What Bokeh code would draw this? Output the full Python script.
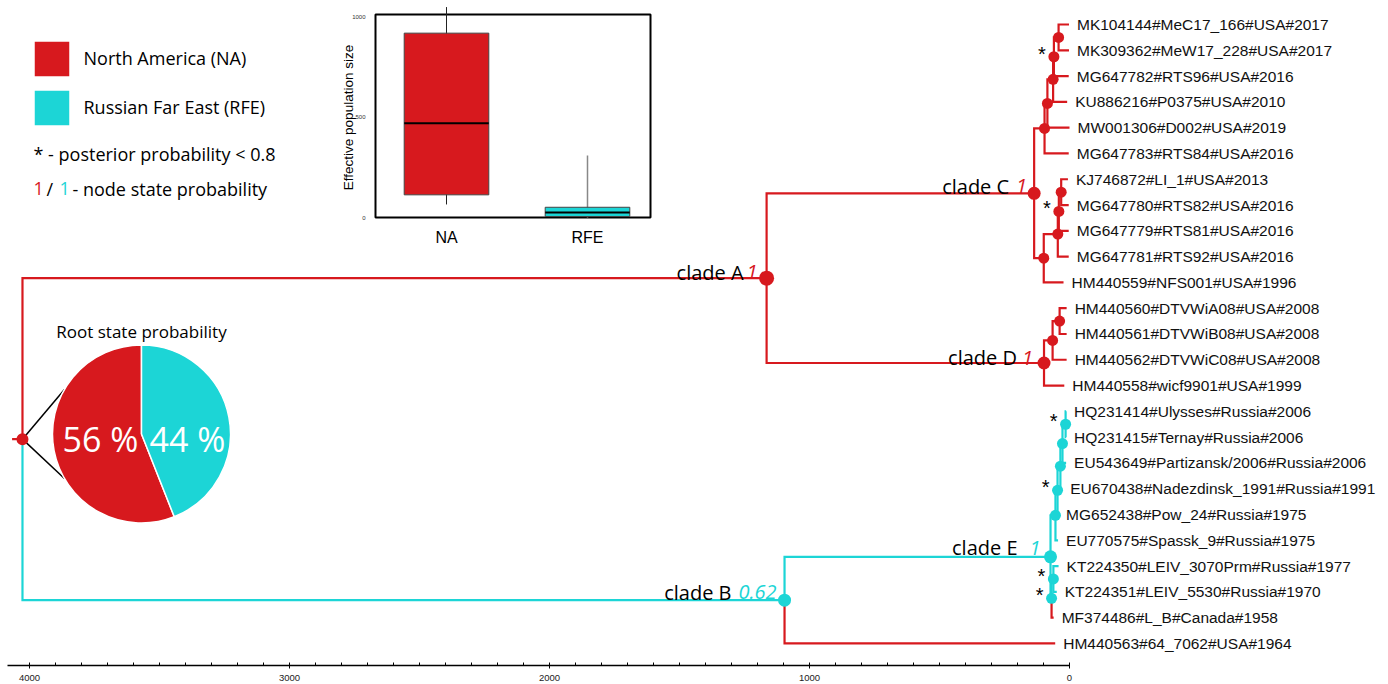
from math import cos, sin, pi, radians
from bokeh.plotting import figure
from bokeh.models import Range1d, LinearAxis, FixedTicker, Label, Legend, LegendItem
from bokeh.core.properties import value
from bokeh.embed import file_html
from bokeh.resources import INLINE

# ---------------- data ----------------
tip_names = [
    "MK104144#MeC17_166#USA#2017", "MK309362#MeW17_228#USA#2017", "MG647782#RTS96#USA#2016",
    "KU886216#P0375#USA#2010", "MW001306#D002#USA#2019", "MG647783#RTS84#USA#2016",
    "KJ746872#LI_1#USA#2013", "MG647780#RTS82#USA#2016", "MG647779#RTS81#USA#2016",
    "MG647781#RTS92#USA#2016", "HM440559#NFS001#USA#1996",
    "HM440560#DTVWiA08#USA#2008", "HM440561#DTVWiB08#USA#2008", "HM440562#DTVWiC08#USA#2008",
    "HM440558#wicf9901#USA#1999",
    "HQ231414#Ulysses#Russia#2006", "HQ231415#Ternay#Russia#2006",
    "EU543649#Partizansk/2006#Russia#2006", "EU670438#Nadezdinsk_1991#Russia#1991",
    "MG652438#Pow_24#Russia#1975", "EU770575#Spassk_9#Russia#1975",
    "KT224350#LEIV_3070Prm#Russia#1977", "KT224351#LEIV_5530#Russia#1970",
    "MF374486#L_B#Canada#1958", "HM440563#64_7062#USA#1964",
]
tip_years = [2017, 2017, 2016, 2010, 2019, 2016, 2013, 2016, 2016, 2016, 1996,
             2008, 2008, 2008, 1999,
             2006, 2006, 2006, 1991, 1975, 1975, 1977, 1970, 1958, 1964]
tip_states = ["NA"] * 15 + ["RFE"] * 8 + ["NA", "NA"]
present_year = 2019

node_ids = ["c1", "c2", "c3", "c4", "c5", "c6", "c7", "c8", "c9", "C",
            "d1", "d2", "D", "A",
            "e1", "e2", "e3", "e4", "e5", "e6", "e7", "E", "B", "root"]
node_children = [(0, 1), ("c1", 2), ("c2", 3), ("c3", 4), ("c4", 5),
                 (6, 7), ("c6", 8), ("c7", 9), ("c8", 10), ("c5", "c9"),
                 (11, 12), ("d1", 13), ("d2", 14), ("C", "D"),
                 (15, 16), ("e1", 17), ("e2", 18), ("e3", 19), ("e4", 20),
                 (21, 22), ("e6", 23), ("e5", "e7"), ("E", 24), ("A", "B")]
node_ages = [42, 60, 63, 85, 96, 32, 41, 45, 99, 136,
             38, 65, 98, 1165,
             15, 27, 35, 46, 54, 62, 69, 73, 1096, 4027]
node_states = ["NA"] * 14 + ["RFE"] * 9 + ["NA"]
low_posterior_nodes = ["c2", "c7", "e1", "e4", "e6", "e7"]

clade_nodes = ["A", "B", "C", "D", "E"]
clade_names = ["clade A", "clade B", "clade C", "clade D", "clade E"]
clade_probs = ["1", "0.62", "1", "1", "1"]

root_states = ["NA", "RFE"]
root_probs = [56, 44]

box_groups = ["NA", "RFE"]
box_low = [65, 0]
box_q1 = [113, 5]
box_median = [470, 25]
box_q3 = [919, 51]
box_high = [1049, 309]
box_ticks = [0, 500, 1000]
box_ylabel = "Effective population size"

time_ticks = [4000, 3000, 2000, 1000, 0]
time_minor_step = 100

legend_labels = ["North America (NA)", "Russian Far East (RFE)"]

# ---------------- style / layout ----------------
RED = "#D7191E"
CYAN = "#1CD5D6"
STATE_COLOR = {"NA": RED, "RFE": CYAN}
W, H = 1388, 684
AGE0_PX, PX_PER_YEAR = 1069, 0.26
ROW0_PX, ROW_PX = 24, 25.79
BOX_CAT0_PX, BOX_PX_PER_CAT = 446, 141
BOX_ZERO_PX, BOX_PX_PER_UNIT = 217, 0.2006
ROOT_STUB = 40


def xd(px):  # picture px -> data x (= -age)
    return (px - AGE0_PX) / PX_PER_YEAR


def yd(py):  # picture px -> data y (= -row)
    return -(py - ROW0_PX) / ROW_PX


def bc(px):
    return (px - BOX_CAT0_PX) / BOX_PX_PER_CAT


def bv(py):
    return (BOX_ZERO_PX - py) / BOX_PX_PER_UNIT


def sx(px):  # picture px -> screen units of frame
    return px


def sy(py):
    return H - py


p = figure(width=W, height=H, x_range=Range1d(xd(0), xd(W)), y_range=Range1d(yd(H), yd(0)),
           x_axis_location=None, y_axis_location=None, toolbar_location=None,
           output_backend="svg", min_border=0, title=None)
p.outline_line_color = None
p.background_fill_color = "white"
p.border_fill_color = "white"
p.grid.visible = False

# ---------------- tree layout ----------------
pos = {}
state = {}
for i, yr in enumerate(tip_years):
    pos[i] = (-(present_year - yr), -i)
    state[i] = tip_states[i]
for nid, (a, b), age, st in zip(node_ids, node_children, node_ages, node_states):
    pos[nid] = (-age, (pos[a][1] + pos[b][1]) / 2)
    state[nid] = st

xs, ys, cols = [], [], []
for nid, ch in zip(node_ids, node_children):
    px_, py_ = pos[nid]
    for c in ch:
        cx, cy = pos[c]
        xs.append([px_, px_, cx])
        ys.append([py_, cy, cy])
        cols.append(STATE_COLOR[state[c]])
rx, ry = pos["root"]
xs.append([rx - ROOT_STUB, rx])
ys.append([ry, ry])
cols.append(STATE_COLOR[state["root"]])
p.multi_line(xs, ys, line_color=cols, line_width=2.2, line_join="miter")

# pie (root state probability)
PIE_CX, PIE_CY, PIE_R = 141, 433.5, 89
pcx, pcy = xd(PIE_CX), yd(PIE_CY)
starts, ends = [], []
a0 = pi / 2
for v in root_probs:
    starts.append(a0)
    a0 = a0 + 2 * pi * v / 100
    ends.append(a0)

conn_ang = [radians(150), radians(210)]
p.segment(x0=[rx, rx], y0=[ry, ry],
          x1=[xd(PIE_CX + PIE_R * cos(a)) for a in conn_ang],
          y1=[yd(PIE_CY - PIE_R * sin(a)) for a in conn_ang],
          line_color="black", line_width=1.5)

pie = p.wedge(x=[pcx] * 2, y=[pcy] * 2, radius=PIE_R, radius_units="screen",
              start_angle=starts, end_angle=ends,
              fill_color=[STATE_COLOR[s] for s in root_states], line_color="white", line_width=1.5)
p.text(x=[pcx] * 2, y=[pcy] * 2, text=[f"{v} %" for v in root_probs],
       x_offset=[-41, 46], y_offset=[5, 5], text_align="center", text_baseline="middle",
       text_color="white", text_font=value("Open Sans"), text_font_size="34px")
p.add_layout(Label(x=sx(PIE_CX), y=sy(331), x_units="screen", y_units="screen",
                   text="Root state probability", text_align="center", text_baseline="middle",
                   text_font="Open Sans", text_font_size="17px", text_color="black"))

# nodes
node_size = {"A": 15, "B": 13, "C": 13, "D": 13, "E": 13, "root": 12}
p.scatter(x=[pos[n][0] for n in node_ids], y=[pos[n][1] for n in node_ids],
          size=[node_size.get(n, 11) for n in node_ids],
          fill_color=[STATE_COLOR[state[n]] for n in node_ids], line_color=None, marker="circle")

# tip labels
p.text(x=[pos[i][0] for i in range(len(tip_names))], y=[pos[i][1] for i in range(len(tip_names))],
       text=tip_names, x_offset=8, text_align="left", text_baseline="middle",
       text_font=value("Liberation Sans"), text_font_size="15.5px", text_color="#111111")

# clade labels
label_style = {"A": (-23, -9, -6), "B": (-53, -8, -8), "C": (-25, -7, -7),
               "D": (-27, -11, -5), "E": (-33, -10, -9)}
cx_ = [pos[c][0] for c in clade_nodes]
cy_ = [pos[c][1] for c in clade_nodes]
p.text(x=cx_, y=cy_, text=clade_names,
       x_offset=[label_style[c][0] for c in clade_nodes], y_offset=[label_style[c][2] for c in clade_nodes],
       text_align="right", text_baseline="alphabetic",
       text_font=value("Open Sans"), text_font_size="20px", text_color="black")
p.text(x=cx_, y=cy_, text=clade_probs,
       x_offset=[label_style[c][1] for c in clade_nodes], y_offset=[label_style[c][2] for c in clade_nodes],
       text_align="right", text_baseline="alphabetic", text_font_style="italic",
       text_font=value("Open Sans"), text_font_size="20px",
       text_color=[STATE_COLOR[state[c]] for c in clade_nodes])

# low posterior asterisks
p.text(x=[pos[n][0] for n in low_posterior_nodes], y=[pos[n][1] for n in low_posterior_nodes],
       text=["*"] * len(low_posterior_nodes), x_offset=-12, y_offset=-3,
       text_align="center", text_baseline="alphabetic",
       text_font=value("Liberation Sans"), text_font_size="20px", text_color="black")

# time axis
ax_t = LinearAxis(fixed_location=yd(665),
                  ticker=FixedTicker(ticks=[-t for t in time_ticks],
                                     minor_ticks=[-m for m in range(0, max(time_ticks) + 1, time_minor_step)]),
                  major_label_overrides={-t: str(t) for t in time_ticks},
                  bounds=(xd(7), 0))
ax_t.axis_line_width = 1.5
ax_t.axis_line_color = "black"
ax_t.major_tick_in = 2
ax_t.major_tick_out = 3
ax_t.minor_tick_in = 3
ax_t.minor_tick_out = 0
ax_t.major_label_standoff = 6
ax_t.major_label_text_font = "Liberation Sans"
ax_t.major_label_text_font_size = "9.5px"
ax_t.major_label_text_color = "#222222"
p.add_layout(ax_t, "below")

# ---------------- inset box plot ----------------
p.extra_x_ranges = {"bx": Range1d(bc(0), bc(W))}
p.extra_y_ranges = {"by": Range1d(bv(H), bv(0))}
cats = list(range(len(box_groups)))
p.quad(left=[bc(375)], right=[bc(650)], bottom=[0], top=[bv(14)], fill_color="white",
       line_color="black", line_width=2, x_range_name="bx", y_range_name="by")
p.segment(x0=cats, y0=box_low, x1=cats, y1=box_high, line_color=["#222222", "#888888"],
          line_width=[1, 1.5], x_range_name="bx", y_range_name="by")
p.vbar(x=cats, width=0.6, bottom=box_q1, top=box_q3,
       fill_color=[STATE_COLOR[g] for g in box_groups], line_color="#444444", line_width=1,
       x_range_name="bx", y_range_name="by")
p.segment(x0=[c - 0.3 for c in cats], y0=box_median, x1=[c + 0.3 for c in cats], y1=box_median,
          line_color="black", line_width=2, x_range_name="bx", y_range_name="by")

ax_l = LinearAxis(x_range_name="bx", y_range_name="by", fixed_location=bc(375),
                  ticker=FixedTicker(ticks=box_ticks))
ax_l.axis_line_color = None
ax_l.major_tick_line_color = None
ax_l.minor_tick_line_color = None
ax_l.major_label_text_font_size = "6px"
ax_l.major_label_text_font = "Liberation Sans"
ax_l.major_label_text_color = "#333333"
ax_l.major_label_standoff = 4
p.add_layout(ax_l, "left")
p.add_layout(Label(x=sx(348), y=sy(117), x_units="screen", y_units="screen", angle=pi / 2,
                   text=box_ylabel, text_align="center", text_baseline="middle",
                   text_font="Liberation Sans", text_font_size="13.5px", text_color="black"))

ax_b = LinearAxis(x_range_name="bx", y_range_name="by", fixed_location=0,
                  ticker=FixedTicker(ticks=cats),
                  major_label_overrides={c: g for c, g in zip(cats, box_groups)})
ax_b.axis_line_color = None
ax_b.major_tick_line_color = None
ax_b.minor_tick_line_color = None
ax_b.major_label_text_font = "Liberation Sans"
ax_b.major_label_text_font_size = "16px"
ax_b.major_label_text_color = "black"
ax_b.major_label_standoff = 5
p.add_layout(ax_b, "below")

# ---------------- legend ----------------
legend = Legend(items=[LegendItem(label=legend_labels[0], renderers=[pie], index=0),
                       LegendItem(label=legend_labels[1], renderers=[pie], index=1)],
                location=(28.5, H - (35.5 + 94)), orientation="vertical", padding=0, margin=0, spacing=4,
                glyph_width=45, glyph_height=45, label_standoff=10,
                label_text_font="Open Sans", label_text_font_size="18px", label_text_color="black",
                border_line_color=None, background_fill_alpha=0)
p.add_layout(legend)

txt = dict(x_units="screen", y_units="screen", text_baseline="middle", text_align="left",
           text_font="Open Sans", text_font_size="18px")
p.add_layout(Label(x=sx(33), y=sy(153), text="* - posterior probability < 0.8", text_color="black", **txt))
p.add_layout(Label(x=sx(33), y=sy(188), text="1", text_color=RED, **txt))
p.add_layout(Label(x=sx(46), y=sy(188), text="/", text_color="black", **txt))
p.add_layout(Label(x=sx(59), y=sy(188), text="1", text_color=CYAN, **txt))
p.add_layout(Label(x=sx(72), y=sy(188), text="- node state probability", text_color="black", **txt))

open("out.html", "w").write(file_html(p, INLINE, title="tree"))
